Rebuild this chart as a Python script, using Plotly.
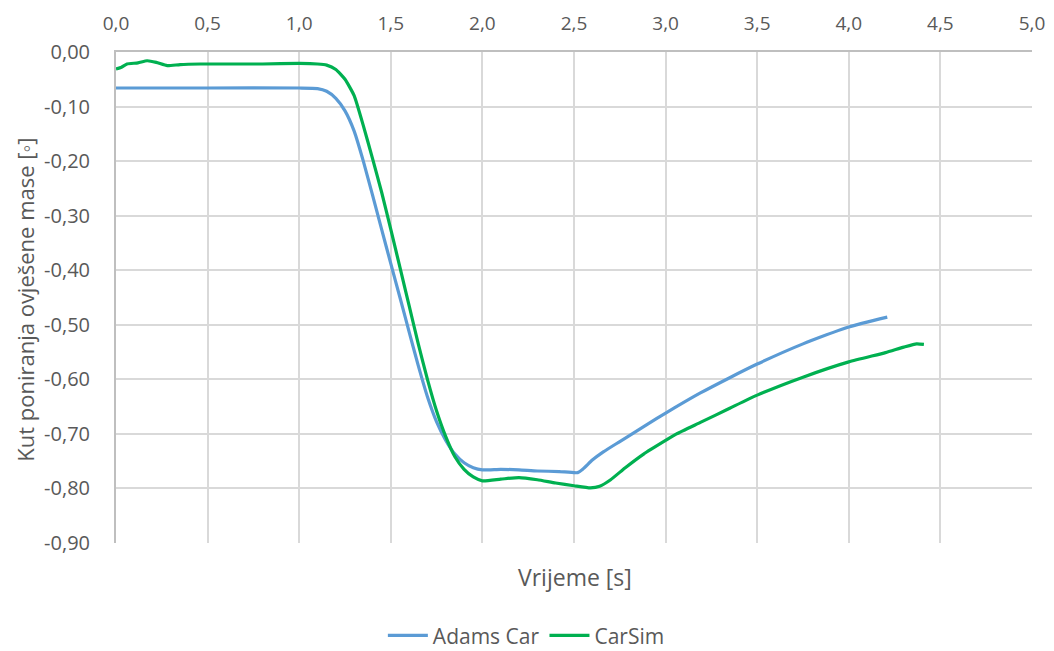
import plotly.graph_objects as go

# Adams Car series
adams_t = [0, 0.5, 1.0, 1.10, 1.15, 1.20, 1.25, 1.30, 1.35, 1.40, 1.45, 1.50, 1.55, 1.60,
           1.65, 1.70, 1.75, 1.80, 1.85, 1.90, 1.95, 2.0, 2.1, 2.2, 2.3, 2.42, 2.52, 2.55,
           2.60, 2.66, 2.75, 2.85, 2.95, 3.05, 3.19, 3.35, 3.5, 3.75, 4.0, 4.21]
adams_y = [-0.066, -0.066, -0.066, -0.067, -0.072, -0.085, -0.108, -0.145, -0.20, -0.262,
           -0.325, -0.388, -0.45, -0.513, -0.575, -0.632, -0.678, -0.712, -0.737, -0.753,
           -0.762, -0.766, -0.765, -0.766, -0.768, -0.769, -0.771, -0.764, -0.748, -0.733,
           -0.714, -0.693, -0.672, -0.652, -0.625, -0.597, -0.572, -0.535, -0.504, -0.486]

# CarSim series
carsim_t = [0, 0.03, 0.06, 0.12, 0.17, 0.22, 0.28, 0.35, 0.46, 0.8, 1.0, 1.10, 1.15, 1.20,
            1.25, 1.30, 1.35, 1.40, 1.45, 1.50, 1.55, 1.60, 1.65, 1.70, 1.75, 1.80, 1.85,
            1.90, 1.95, 2.0, 2.1, 2.2, 2.3, 2.4, 2.5, 2.59, 2.64, 2.70, 2.78, 2.88, 3.0,
            3.06, 3.19, 3.35, 3.5, 3.75, 4.0, 4.2, 4.3, 4.37, 4.41]
carsim_y = [-0.031, -0.028, -0.022, -0.020, -0.016, -0.019, -0.025, -0.023, -0.022, -0.022,
            -0.021, -0.022, -0.024, -0.032, -0.05, -0.08, -0.135, -0.195, -0.257, -0.325,
            -0.395, -0.465, -0.535, -0.60, -0.658, -0.705, -0.742, -0.765, -0.779, -0.786,
            -0.783, -0.780, -0.784, -0.790, -0.795, -0.799, -0.796, -0.784, -0.762, -0.737,
            -0.712, -0.700, -0.679, -0.653, -0.629, -0.596, -0.568, -0.551, -0.541, -0.535,
            -0.536]

x_ticks = [0, 0.5, 1.0, 1.5, 2.0, 2.5, 3.0, 3.5, 4.0, 4.5, 5.0]
x_labels = ["0,0", "0,5", "1,0", "1,5", "2,0", "2,5", "3,0", "3,5", "4,0", "4,5", "5,0"]
y_ticks = [0, -0.1, -0.2, -0.3, -0.4, -0.5, -0.6, -0.7, -0.8, -0.9]
y_labels = ["0,00", "-0,10", "-0,20", "-0,30", "-0,40", "-0,50", "-0,60", "-0,70", "-0,80", "-0,90"]

FONT = "Open Sans"
TXT = "#595959"
GRID = "#D9D9D9"

fig = go.Figure()
fig.add_trace(go.Scatter(x=adams_t, y=adams_y, name="Adams Car", mode="lines",
                         line=dict(color="#5B9BD5", width=3.2, shape="spline", smoothing=0.5)))
fig.add_trace(go.Scatter(x=carsim_t, y=carsim_y, name="CarSim", mode="lines",
                         line=dict(color="#00B050", width=3.2, shape="spline", smoothing=0.5)))

fig.update_layout(
    width=1046, height=643,
    margin=dict(l=108, r=22, t=44, b=108, autoexpand=False),
    paper_bgcolor="white", plot_bgcolor="white",
    font=dict(family=FONT, size=19, color=TXT),
    showlegend=True,
    legend=dict(orientation="h", x=0.448, y=-0.189, xanchor="center", yanchor="middle",
                font=dict(family=FONT, size=21, color=TXT), itemwidth=40),
    xaxis=dict(side="top", range=[0, 5], tickmode="array", tickvals=x_ticks, ticktext=x_labels,
               showgrid=True, gridcolor=GRID, gridwidth=2,
               showline=True, linecolor="#BFBFBF", linewidth=2,
               ticks="outside", ticklen=12, tickcolor="rgba(0,0,0,0)",
               zeroline=False, automargin=False, tickfont=dict(size=19, color=TXT)),
    yaxis=dict(range=[-0.9, 0], tickmode="array", tickvals=y_ticks, ticktext=y_labels,
               showgrid=True, gridcolor=GRID, gridwidth=2,
               showline=True, linecolor="#BFBFBF", linewidth=2,
               ticks="outside", ticklen=20, tickcolor="rgba(0,0,0,0)",
               zeroline=False, automargin=False, tickfont=dict(size=20, color=TXT)),
)

fig.add_annotation(text="Kut poniranja ovješene mase [◦]", x=-0.0995, y=0.495,
                   xref="paper", yref="paper", textangle=-90, showarrow=False,
                   xanchor="center", yanchor="middle",
                   font=dict(family=FONT, size=22, color=TXT))

fig.add_annotation(text="Vrijeme [s]", x=0.501, y=-0.069, xref="paper", yref="paper",
                   showarrow=False, xanchor="center", yanchor="middle",
                   font=dict(family=FONT, size=23, color=TXT))

fig.write_html("out.html")
